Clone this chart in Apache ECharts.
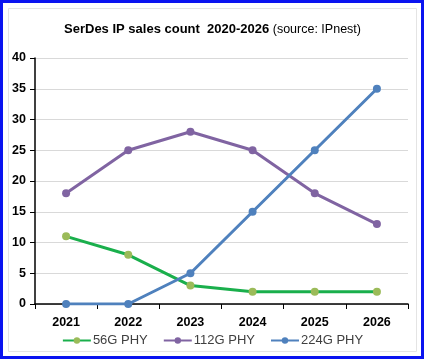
<!DOCTYPE html>
<html><head><meta charset="utf-8">
<script src="https://cdn.jsdelivr.net/npm/echarts@6/dist/echarts.min.js"></script>
<style>html,body{margin:0;padding:0;background:#fff}#c{width:425px;height:360px}</style>
</head><body><div id="c"></div>
<script>
const years = ['2021','2022','2023','2024','2025','2026'];
const phy56 = [11, 8, 3, 2, 2, 2];
const phy112 = [18, 25, 28, 25, 18, 13];
const phy224 = [0, 0, 5, 15, 25, 35];
const yTicks = {min: 0, max: 40, interval: 5};

const font = 'Liberation Sans';
const chart = echarts.init(document.getElementById('c'));
function s(name, data, lineColor, dotColor) {
  return {name, type: 'line', data, symbol: 'circle', symbolSize: 8,
    lineStyle: {color: lineColor, width: 3}, itemStyle: {color: dotColor},
    color: lineColor};
}
chart.setOption({
  animation: false,
  backgroundColor: '#fff',
  graphic: [
    {type: 'rect', shape: {x: 1.5, y: 1.5, width: 421, height: 356}, style: {fill: 'none', stroke: '#0a14f0', lineWidth: 3}},
    {type: 'rect', shape: {x: 8.5, y: 8.5, width: 408, height: 343}, style: {fill: 'none', stroke: '#e4e4e4', lineWidth: 1}}
  ],
  title: {
    left: 'center', top: 18,
    text: '{b|SerDes IP sales count  2020-2026}{n| (source: IPnest)}',
    textStyle: {fontWeight: 'normal', rich: {
      b: {fontFamily: font, fontSize: 13, fontWeight: 'bold', color: '#000'},
      n: {fontFamily: font, fontSize: 12.5, fontWeight: 'normal', color: '#000'}
    }}
  },
  legend: {
    bottom: 8, left: 'center', itemWidth: 28, itemHeight: 8, itemGap: 15,
    textStyle: {fontFamily: font, fontSize: 13, color: '#404040', padding: [0, 0, 0, -3]},
    data: ['56G PHY', '112G PHY', '224G PHY']
  },
  grid: {left: 35, right: 17, top: 58, bottom: 56},
  xAxis: {
    type: 'category', data: years, boundaryGap: true,
    axisLine: {lineStyle: {color: '#000', width: 1.5}},
    axisTick: {show: true, length: 5, inside: false, lineStyle: {color: '#000'}},
    axisLabel: {color: '#000', fontFamily: font, fontSize: 12.5, fontWeight: 'bold', margin: 12}
  },
  yAxis: {
    type: 'value', min: yTicks.min, max: yTicks.max, interval: yTicks.interval,
    axisLine: {show: true, lineStyle: {color: '#000', width: 1.5}},
    axisTick: {show: true, length: 5, lineStyle: {color: '#000'}},
    splitLine: {lineStyle: {color: '#d9d9d9'}},
    axisLabel: {color: '#000', fontFamily: font, fontSize: 12.5, fontWeight: 'bold', margin: 9}
  },
  series: [
    s('56G PHY', phy56, '#1aaf4c', '#9bbb59'),
    s('112G PHY', phy112, '#8064a2', '#8064a2'),
    s('224G PHY', phy224, '#4f81bd', '#4f81bd')
  ]
});
</script></body></html>
